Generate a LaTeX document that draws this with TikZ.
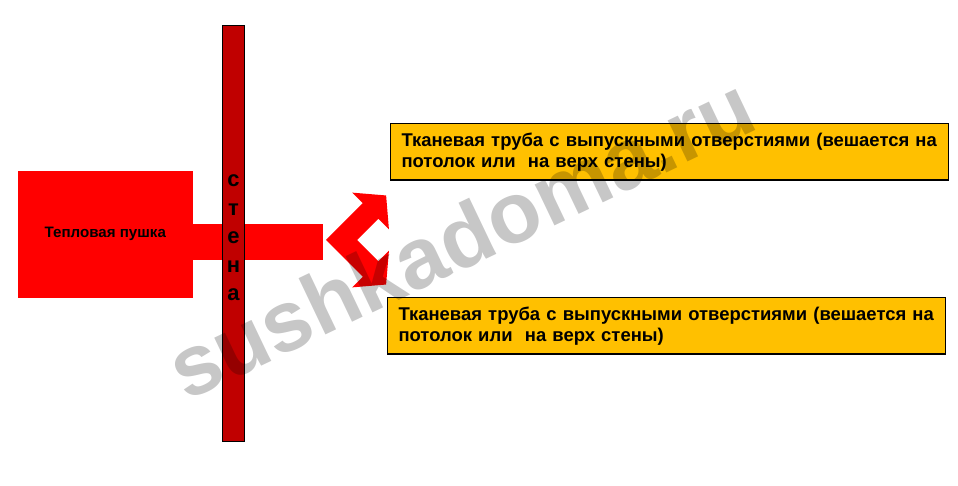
\documentclass[tikz,border=0pt]{standalone}
\usepackage{fontspec}
\setmainfont{Liberation Sans}
\usetikzlibrary{positioning}
\definecolor{gunred}{HTML}{FF0000}
\definecolor{wallred}{HTML}{C00000}
\definecolor{tubeyellow}{HTML}{FFC000}

\begin{document}
\begin{tikzpicture}[x=0.02cm,y=-0.02cm,
    redbox/.style={fill=gunred,draw=gunred,inner sep=0pt,anchor=north west},
    tubebox/.style={draw=black,line width=0.6pt,fill=tubeyellow,anchor=north west,minimum width=11.16cm,minimum height=1.13cm,text width=10.72cm,inner xsep=0.22cm,align=left,font=\fontsize{10.5}{12}\selectfont\bfseries}]
        \useasboundingbox (0,0) rectangle (958,486);
        % пушка и труба через стену
        \node[redbox,minimum width=3.48cm,minimum height=2.52cm,font=\fontsize{8.6}{10}\selectfont\bfseries] (gun) at (18,171) {Тепловая пушка};
        \coordinate (ductin) at (191,224);
        \coordinate (ductout) at (323,260);
        \fill[gunred] (ductin) rectangle (ductout);
        \node[fill=wallred,draw=black,line width=0.5pt,inner sep=0pt,anchor=north west,minimum width=0.44cm,minimum height=8.32cm] (wall) at (222,25) {};
        \node[align=center,inner sep=0pt,font=\fontsize{12.5}{16.2}\selectfont\bfseries] (walltext) at (wall.center |- 0,238) {с\\т\\е\\н\\а};
        % двойная стрелка
        \begin{scope}[shift={(326,240)},x={(0.01414cm,0.01414cm)},y={(0.01414cm,-0.01414cm)}]
            \fill[gunred] (0,0)--(52,0)--(52,-15)--(74,11)--(52,37)--(52,22)--(22,22)--(22,52)--(37,52)--(11,74)--(-15,52)--(0,52)--cycle;
        \end{scope}
        \node[tubebox] (tubetop) at (390,123) {Тканевая труба с выпускными отверстиями (вешается на\\потолок или~ на верх стены)};
        \node[tubebox] (tubebot) at (387,297) {Тканевая труба с выпускными отверстиями (вешается на\\потолок или~ на верх стены)};
        \node[anchor=base west,rotate=25.5,inner sep=0pt,text=black,text opacity=0.22,font=\fontsize{49}{49}\selectfont\bfseries] (wm) at (186,402) {sushkadoma.ru};
    \end{tikzpicture}
\end{document}
